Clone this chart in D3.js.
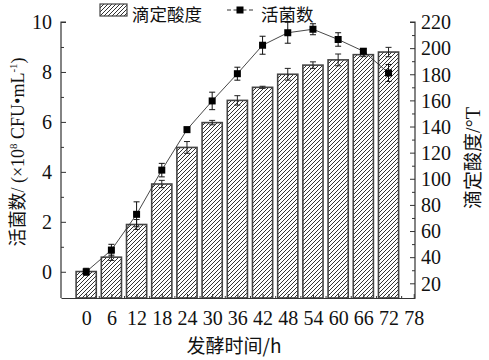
<!DOCTYPE html>
<html>
<head>
<meta charset="utf-8">
<script src="https://cdn.jsdelivr.net/npm/d3@7"></script>
<style>
  body { margin: 0; background: #fff; }
  svg { display: block; }
  .num { font-family: "Liberation Serif", "DejaVu Serif", serif; font-size: 20px; fill: #111; }
  .cjk { font-family: "Noto Sans CJK SC", sans-serif; font-size: 19px; fill: #111; }
</style>
</head>
<body>
<div id="chart"></div>
<script>
// fermentation time (h)
var hours = [0, 6, 12, 18, 24, 30, 36, 42, 48, 54, 60, 66, 72];
// titratable acidity (°T) - bars, right axis
var acidity = [29, 40, 65, 96, 124, 143, 160, 170, 180, 187, 191, 195, 197];
var acidityErr = [1.5, 2.5, 3.8, 2.8, 4.5, 1.7, 3.6, 0.8, 4.5, 2.5, 4.5, 1.5, 3.6];
// viable count (x10^8 CFU/mL) - line, left axis
var viable = [0.0, 0.87, 2.3, 4.07, 5.69, 6.84, 7.93, 9.07, 9.57, 9.71, 9.30, 8.83, 7.96];
var viableErr = [0.14, 0.23, 0.5, 0.27, 0.1, 0.35, 0.26, 0.36, 0.42, 0.22, 0.27, 0.1, 0.34];
var xTicks = [0, 6, 12, 18, 24, 30, 36, 42, 48, 54, 60, 66, 72, 78];
var leftTicks = [0, 2, 4, 6, 8, 10];
var rightTicks = [20, 40, 60, 80, 100, 120, 140, 160, 180, 200, 220];

var W = 489, H = 360;
var svg = d3.select('#chart').append('svg').attr('width', W).attr('height', H);

var x = d3.scaleLinear().domain([-6, 78.3]).range([61, 415]);
var yL = d3.scaleLinear().domain([-1.05, 10]).range([298, 22]);
var yR = d3.scaleLinear().domain([8.75, 220]).range([298, 22]);

// hatch pattern for the bars
var pat = svg.append('defs').append('pattern')
    .attr('id', 'hatch')
    .attr('patternUnits', 'userSpaceOnUse')
    .attr('width', 4).attr('height', 4);
pat.append('rect').attr('width', 4).attr('height', 4).attr('fill', '#fff');
pat.append('path')
    .attr('d', 'M-1,1 l2,-2 M0,4 l4,-4 M3,5 l2,-2')
    .attr('stroke', '#333').attr('stroke-width', 1);

var bw = x(4.8) - x(0);

// bars
svg.append('g').selectAll('rect')
    .data(hours)
    .enter().append('rect')
    .attr('x', function(d) { return x(d) - bw / 2; })
    .attr('y', function(d, i) { return yR(acidity[i]); })
    .attr('width', bw)
    .attr('height', function(d, i) { return yR(8.75) - yR(acidity[i]); })
    .attr('fill', 'url(#hatch)')
    .attr('stroke', '#444')
    .attr('stroke-width', 1.6);

// bar error bars
var be = svg.append('g').attr('stroke', '#222').attr('stroke-width', 1);
hours.forEach(function(h, i) {
  var cx = x(h), t = yR(acidity[i] + acidityErr[i]), b = yR(acidity[i] - acidityErr[i]);
  be.append('line').attr('x1', cx).attr('x2', cx).attr('y1', t).attr('y2', b);
  be.append('line').attr('x1', cx - 3).attr('x2', cx + 3).attr('y1', t).attr('y2', t);
  be.append('line').attr('x1', cx - 3).attr('x2', cx + 3).attr('y1', b).attr('y2', b);
});

// viable count line
var line = d3.line()
    .x(function(d) { return x(d); })
    .y(function(d, i) { return yL(viable[i]); });
svg.append('path').datum(hours)
    .attr('d', line)
    .attr('fill', 'none')
    .attr('stroke', '#333')
    .attr('stroke-width', 0.9);

var le = svg.append('g').attr('stroke', '#111').attr('stroke-width', 1);
hours.forEach(function(h, i) {
  var cx = x(h), t = yL(viable[i] + viableErr[i]), b = yL(viable[i] - viableErr[i]);
  le.append('line').attr('x1', cx).attr('x2', cx).attr('y1', t).attr('y2', b);
  le.append('line').attr('x1', cx - 3).attr('x2', cx + 3).attr('y1', t).attr('y2', t);
  le.append('line').attr('x1', cx - 3).attr('x2', cx + 3).attr('y1', b).attr('y2', b);
});
svg.append('g').selectAll('rect')
    .data(hours)
    .enter().append('rect')
    .attr('x', function(d) { return x(d) - 3.5; })
    .attr('y', function(d, i) { return yL(viable[i]) - 3.5; })
    .attr('width', 7).attr('height', 7)
    .attr('fill', '#000');

// axes: left, right, bottom (no top line)
function styleAxis(g) {
  g.selectAll('path').attr('stroke', '#333').attr('stroke-width', 1.2);
  g.selectAll('line').attr('stroke', '#333');
  g.selectAll('text').attr('class', 'num').attr('font-size', null).attr('font-family', null).attr('fill', null);
}

var gL = svg.append('g').attr('transform', 'translate(61,0)')
    .call(d3.axisRight(yL).tickValues(leftTicks).tickSize(5).tickSizeOuter(0).tickFormat(''));
svg.append('g').attr('transform', 'translate(61,0)')
    .call(d3.axisRight(yL).tickValues([1, 3, 5, 7, 9]).tickSize(3).tickFormat(''))
    .select('.domain').remove();
gL.selectAll('.tick').append('text')
    .attr('class', 'num').attr('x', -9).attr('dy', '0.34em')
    .attr('text-anchor', 'end')
    .text(function(d) { return d; });
styleAxis(gL);
gL.select('.domain').attr('d', 'M5,22H0V298');

var gR = svg.append('g').attr('transform', 'translate(415,0)')
    .call(d3.axisLeft(yR).tickValues(rightTicks).tickSize(5).tickSizeOuter(0).tickFormat(''));
svg.append('g').attr('transform', 'translate(415,0)')
    .call(d3.axisLeft(yR).tickValues(d3.range(30, 220, 20)).tickSize(3).tickFormat(''))
    .select('.domain').remove();
gR.selectAll('.tick').append('text')
    .attr('class', 'num').attr('x', 6).attr('dy', '0.34em')
    .attr('text-anchor', 'start')
    .text(function(d) { return d; });
styleAxis(gR);
gR.select('.domain').attr('d', 'M-5,22H0V298');

var gB = svg.append('g').attr('transform', 'translate(0,298)')
    .call(d3.axisTop(x).tickValues(xTicks).tickSize(4).tickSizeOuter(0).tickFormat(''));
svg.append('g').attr('transform', 'translate(0,298)')
    .call(d3.axisTop(x).tickValues(d3.range(3, 78, 6)).tickSize(2).tickFormat(''))
    .select('.domain').remove();
gB.selectAll('.tick').append('text')
    .attr('class', 'num').attr('y', 27)
    .attr('text-anchor', 'middle')
    .text(function(d) { return d; });
styleAxis(gB);
svg.selectAll('.tick line').attr('stroke', '#333');

// axis titles
svg.append('text').attr('class', 'cjk')
    .attr('x', 234).attr('y', 353).attr('text-anchor', 'middle')
    .text('发酵时间/h');

svg.append('text')
    .attr('transform', 'translate(480,158) rotate(-90)')
    .attr('text-anchor', 'middle')
    .call(function(t) {
      t.append('tspan').attr('class', 'cjk').text('滴定酸度');
      t.append('tspan').attr('class', 'num').text('/°T');
    });

var lt = svg.append('text')
    .attr('transform', 'translate(24,152) rotate(-90)')
    .attr('text-anchor', 'middle');
lt.append('tspan').attr('class', 'cjk').style('font-size', '18px').text('活菌数');
lt.append('tspan').attr('class', 'num').style('font-size', '18px').text('/ (×10');
lt.append('tspan').attr('class', 'num').style('font-size', '11px').attr('dy', -7).text('8');
lt.append('tspan').attr('class', 'num').style('font-size', '18px').attr('dy', 7).text(' CFU•mL');
lt.append('tspan').attr('class', 'num').style('font-size', '11px').attr('dy', -7).text('-1');
lt.append('tspan').attr('class', 'num').style('font-size', '18px').attr('dy', 7).text(')');

// legend
var lg = svg.append('g');
lg.append('rect').attr('x', 100).attr('y', 4).attr('width', 27).attr('height', 12)
    .attr('fill', 'url(#hatch)').attr('stroke', '#444').attr('stroke-width', 1.2);
lg.append('text').attr('class', 'cjk').style('font-size', '17.5px').attr('x', 132).attr('y', 20.5).text('滴定酸度');
lg.append('line').attr('x1', 227).attr('x2', 253).attr('y1', 10).attr('y2', 10)
    .attr('stroke', '#333').attr('stroke-width', 1);
lg.append('rect').attr('x', 236.5).attr('y', 6.5).attr('width', 7).attr('height', 7).attr('fill', '#000');
lg.append('line').attr('x1', 231).attr('x2', 233.5).attr('y1', 10).attr('y2', 10).attr('stroke', '#fff').attr('stroke-width', 2);
lg.append('line').attr('x1', 246.5).attr('x2', 249).attr('y1', 10).attr('y2', 10).attr('stroke', '#fff').attr('stroke-width', 2);
lg.append('text').attr('class', 'cjk').style('font-size', '17.5px').attr('x', 261).attr('y', 20.5).text('活菌数');
</script>
</body>
</html>
